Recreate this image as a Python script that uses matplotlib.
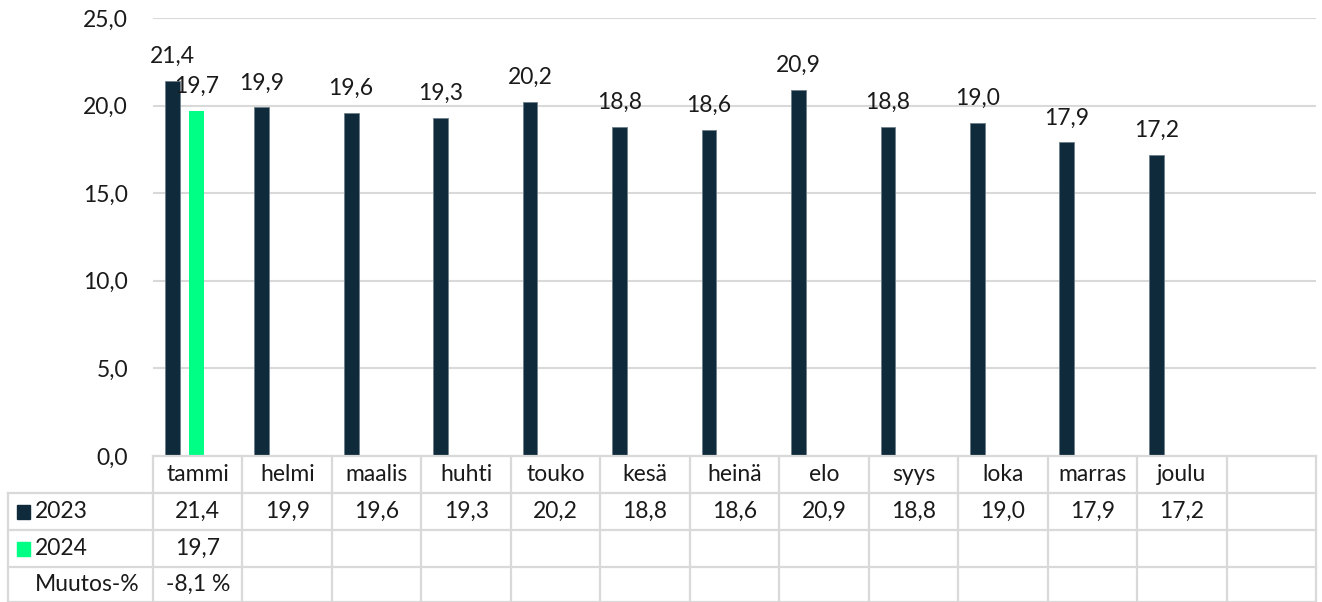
import matplotlib.pyplot as plt

# data
months = ["tammi", "helmi", "maalis", "huhti", "touko", "kesä", "heinä",
          "elo", "syys", "loka", "marras", "joulu", ""]
v2023 = [21.4, 19.9, 19.6, 19.3, 20.2, 18.8, 18.6, 20.9, 18.8, 19.0, 17.9, 17.2]
v2024 = [19.7]
muutos = ["-8,1 %"]
yticks = [0, 5, 10, 15, 20, 25]

c2023 = "#0e2a3b"
c2024 = "#00ff85"
gridc = "#d9d9d9"
txtc = "#1a1a1a"

plt.rcParams['font.family'] = ['Lato', 'DejaVu Sans']
fs = 16.5

W, H = 1322, 602
fig = plt.figure(figsize=(W / 100, H / 100), dpi=100)
x0, x1, ytop, ybot = 153, 1316, 18, 456
ax = fig.add_axes([x0 / W, 1 - ybot / H, (x1 - x0) / W, (ybot - ytop) / H])

n = len(months)
ax.set_xlim(-0.5, n - 0.5)
ax.set_ylim(0, 25)
ax.set_yticks(yticks)
ax.set_yticklabels([f"{t:.1f}".replace(".", ",") for t in yticks], fontsize=fs, color=txtc)
ax.tick_params(axis="y", length=0, pad=18)
ax.set_xticks([])
for s in ax.spines.values():
    s.set_visible(False)
for t in yticks:
    ax.axhline(t, color=gridc, lw=1.5, zorder=0)

bw = 0.165
xa = [i - 0.285 for i in range(len(v2023))]
xb = [i - 0.01 for i in range(len(v2024))]
ax.bar(xa, v2023, width=bw, color=c2023, edgecolor="#6d7f8a", linewidth=0.6, zorder=2)
ax.bar(xb, v2024, width=bw, color=c2024, zorder=2)


def fmt(v):
    return f"{v:.1f}".replace(".", ",")


for x, v in zip(xa, v2023):
    ax.annotate(fmt(v), (x, v), xytext=(0, 10), textcoords="offset points",
                ha="center", va="bottom", fontsize=fs, color=txtc)
for x, v in zip(xb, v2024):
    ax.annotate(fmt(v), (x, v), xytext=(0, 10), textcoords="offset points",
                ha="center", va="bottom", fontsize=fs, color=txtc)

# data table under the plot, in pixel rows
def py(y):
    return 1 - y / H


ft = fig.transFigure
slot = (x1 - x0) / n
rows = [456, 493, 530, 567, 602]
fig.add_artist(plt.Line2D([x0 / W, x1 / W], [py(456), py(456)], color=gridc, lw=1.6, transform=ft))
for y in rows[1:]:
    fig.add_artist(plt.Line2D([8 / W, x1 / W], [py(y), py(y)], color=gridc, lw=1.6, transform=ft))
for i in range(n + 1):
    xx = (x0 + i * slot) / W
    fig.add_artist(plt.Line2D([xx, xx], [py(456), py(602)], color=gridc, lw=1.6, transform=ft))
fig.add_artist(plt.Line2D([8 / W, 8 / W], [py(493), py(602)], color=gridc, lw=1.6, transform=ft))

tc = [(rows[k] + rows[k + 1]) / 2 for k in range(4)]
for i, m in enumerate(months):
    cx = (x0 + (i + 0.5) * slot) / W
    fig.text(cx, py(tc[0]), m, ha="center", va="center", fontsize=fs, color=txtc)
    if i < len(v2023):
        fig.text(cx, py(tc[1]), fmt(v2023[i]), ha="center", va="center", fontsize=fs, color=txtc)
    if i < len(v2024):
        fig.text(cx, py(tc[2]), fmt(v2024[i]), ha="center", va="center", fontsize=fs, color=txtc)
    if i < len(muutos):
        fig.text(cx, py(tc[3]), muutos[i], ha="center", va="center", fontsize=fs, color=txtc)

for lab, col, y in [("2023", c2023, tc[1]), ("2024", c2024, tc[2])]:
    fig.patches.append(plt.Rectangle((17 / W, py(y + 7)), 13 / W, 14 / H,
                                     color=col, transform=ft, figure=fig))
    fig.text(35 / W, py(y), lab, ha="left", va="center", fontsize=fs, color=txtc)
fig.text(35 / W, py(tc[3]), "Muutos-%", ha="left", va="center", fontsize=fs, color=txtc)

fig.savefig("out.png", dpi=100)
